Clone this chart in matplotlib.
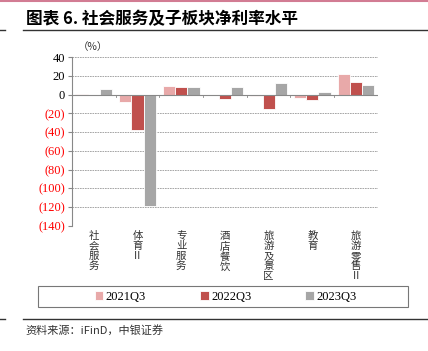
import numpy as np
import matplotlib.pyplot as plt
from matplotlib.lines import Line2D
from matplotlib.patches import Rectangle

plt.rcParams['font.family'] = ['Liberation Serif', 'Noto Sans CJK SC', 'DejaVu Sans']

CATEGORIES = ['社会服务', '体育Ⅱ', '专业服务', '酒店餐饮', '旅游及景区', '教育', '旅游零售Ⅱ']
SERIES = ['2021Q3', '2022Q3', '2023Q3']
V_2021 = [1.0, -8.2, 9.3, -0.3, -1.4, -3.9, 22.1]
V_2022 = [-0.5, -37.9, 8.2, -5.0, -15.4, -5.7, 13.6]
V_2023 = [6.0, -118.9, 7.9, 7.9, 12.5, 3.2, 10.4]
COLORS = ['#E8A9A9', '#C0504D', '#A6A6A6']
YTICKS = [40, 20, 0, -20, -40, -60, -80, -100, -120, -140]


def fmt(v):
    return f'({abs(v)})' if v < 0 else str(v)


fig = plt.figure(figsize=(4.28, 3.51), dpi=100)
ax = fig.add_axes([0.168, 0.357, 0.715, 0.48])

x = np.arange(len(CATEGORIES))
w = 0.28
for i, (vals, c) in enumerate(zip([V_2021, V_2022, V_2023], COLORS)):
    ax.bar(x + (i - 1) * w, vals, w, color=c, edgecolor='white', linewidth=0.6,
           label=SERIES[i], zorder=3)

ax.set_xlim(-0.5, len(CATEGORIES) - 0.5)
ax.set_ylim(-140, 40)
ax.set_yticks(YTICKS)
ax.set_yticklabels([fmt(v) for v in YTICKS], fontsize=9)
for lab, v in zip(ax.get_yticklabels(), YTICKS):
    lab.set_color('#FF0000' if v < 0 else 'black')
ax.yaxis.grid(True, linestyle=(0, (2, 1)), color='#999999', linewidth=0.6, zorder=0)
ax.axhline(0, color='#888888', linewidth=0.8, zorder=4)
for s in ['top', 'right', 'bottom']:
    ax.spines[s].set_visible(False)
ax.spines['left'].set_color('#888888')
ax.tick_params(axis='y', length=3, color='#888888', pad=2)
ax.tick_params(axis='x', length=0, pad=4)
ax.set_xticks(x)
ax.set_xticklabels(['\n'.join(c) for c in CATEGORIES], fontsize=7.5,
                   family=['Noto Sans CJK SC', 'DejaVu Sans'], linespacing=1.0,
                   va='top', color='#333333')
# small ticks on zero line between categories
for b in np.arange(0.5, len(CATEGORIES) - 0.5 + 1e-9, 1.0):
    ax.plot([b, b], [0, -2], color='#888888', linewidth=0.6, zorder=4)

ax.text(0.02, 1.03, '（%）', transform=ax.transAxes, fontsize=7.5,
        family=['Noto Sans CJK SC', 'DejaVu Sans'], color='#333333', va='bottom')

leg = fig.legend(loc='center', bbox_to_anchor=(0.527, 0.155), ncol=3, fontsize=9,
                 frameon=False, handlelength=0.7, handleheight=0.7,
                 handletextpad=0.2, columnspacing=4.3)
fig.add_artist(Rectangle((38 / 428, 0.125), 370 / 428, 0.06, transform=fig.transFigure,
                         fill=False, edgecolor='#777777', linewidth=0.8))

# header and footer
fig.add_artist(Line2D([0, 1], [0.998, 0.998], color='#D27C93', linewidth=1.5))
fig.text(0.06, 0.945, '图表 6. 社会服务及子板块净利率水平', fontsize=12, fontweight='bold',
         family=['Noto Sans CJK SC', 'DejaVu Sans'], va='center')
for yy in [0.914, 0.091]:
    fig.add_artist(Line2D([0, 0.012], [yy, yy], color='#333333', linewidth=1.0))
    fig.add_artist(Line2D([0.054, 1], [yy, yy], color='#333333', linewidth=1.0))
fig.text(0.06, 0.06, '资料来源：iFinD，中银证券', fontsize=8, style='italic',
         family=['Noto Sans CJK SC', 'DejaVu Sans'], va='center', color='#333333')

fig.savefig('out.png', dpi=100)
